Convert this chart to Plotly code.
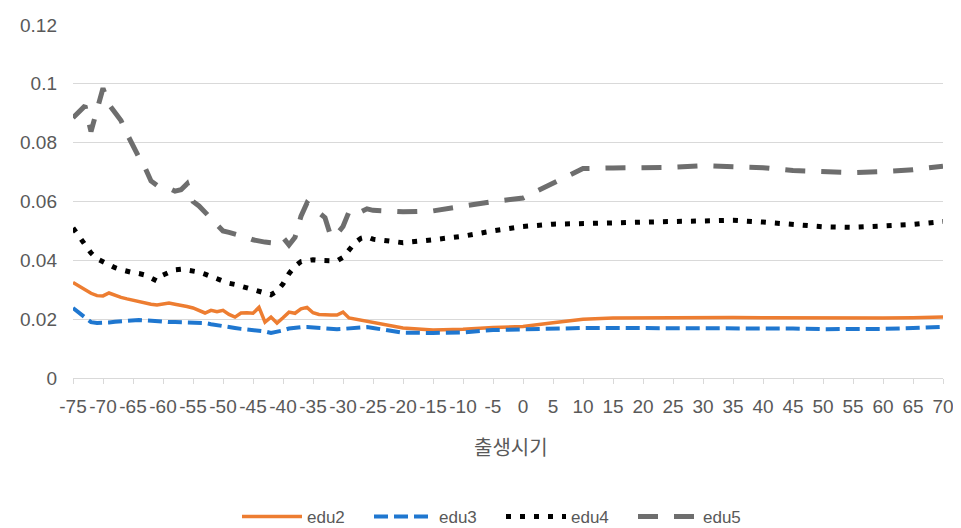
import plotly.graph_objects as go

# Birth period (x) : yearly from -75 to -25, then every 5 years
x_period = list(range(-75, -24)) + list(range(-20, 71, 5))

edu2 = [0.0325, 0.0312, 0.0300, 0.0288, 0.0280, 0.0279, 0.0289, 0.0280, 0.0274, 0.0269,
        0.0264, 0.0259, 0.0255, 0.0251, 0.0248, 0.0252, 0.0255, 0.0251, 0.0248, 0.0243,
        0.0238, 0.0228, 0.0221, 0.0230, 0.0225, 0.0230, 0.0216, 0.0207, 0.0221, 0.0222,
        0.0220, 0.0240, 0.0190, 0.0207, 0.0187, 0.0205, 0.0224, 0.0220, 0.0235, 0.0240,
        0.0222, 0.0216, 0.0214, 0.0214, 0.0214, 0.0224, 0.0204, 0.0200, 0.0197, 0.0194,
        0.0190,
        0.0170, 0.0163, 0.0166, 0.0172, 0.0175, 0.0188, 0.0200, 0.0204, 0.0205, 0.0205,
        0.0206, 0.0206, 0.0205, 0.0204, 0.0203, 0.0203, 0.0204, 0.0205, 0.0207]

edu3 = [0.0238, 0.0222, 0.0205, 0.0190, 0.0187, 0.0187, 0.0189, 0.0191, 0.0193, 0.0195,
        0.0196, 0.0197, 0.0196, 0.0194, 0.0192, 0.0191, 0.0190, 0.0190, 0.0190, 0.0189,
        0.0189, 0.0188, 0.0187, 0.0183, 0.0179, 0.0176, 0.0173, 0.0170, 0.0167, 0.0165,
        0.0164, 0.0163, 0.0158, 0.0153, 0.0156, 0.0162, 0.0168, 0.0171, 0.0173, 0.0173,
        0.0171, 0.0170, 0.0168, 0.0166, 0.0166, 0.0167, 0.0168, 0.0170, 0.0172, 0.0173,
        0.0170,
        0.0154, 0.0153, 0.0155, 0.0163, 0.0166, 0.0170, 0.0170, 0.0170, 0.0170, 0.0170,
        0.0170, 0.0170, 0.0169, 0.0168, 0.0166, 0.0165, 0.0167, 0.0170, 0.0174]

edu4 = [0.0510, 0.0480, 0.0450, 0.0425, 0.0405, 0.0394, 0.0385, 0.0375, 0.0368, 0.0362,
        0.0358, 0.0355, 0.0350, 0.0340, 0.0330, 0.0350, 0.0360, 0.0368, 0.0370, 0.0368,
        0.0364, 0.0360, 0.0353, 0.0345, 0.0335, 0.0330, 0.0322, 0.0318, 0.0312, 0.0306,
        0.0302, 0.0296, 0.0290, 0.0283, 0.0295, 0.0320, 0.0355, 0.0380, 0.0396, 0.0400,
        0.0402, 0.0400, 0.0400, 0.0398, 0.0398, 0.0410, 0.0435, 0.0460, 0.0475, 0.0480,
        0.0472,
        0.0460, 0.0470, 0.0482, 0.0500, 0.0515, 0.0523, 0.0527, 0.0527, 0.0530, 0.0532,
        0.0537, 0.0536, 0.0530, 0.0522, 0.0514, 0.0512, 0.0515, 0.0522, 0.0532]

edu5 = [0.0885, 0.0905, 0.0925, 0.0838, 0.0915, 0.0985, 0.0930, 0.0905, 0.0875, 0.0830,
        0.0785, 0.0750, 0.0715, 0.0670, 0.0655, 0.0650, 0.0645, 0.0635, 0.0640, 0.0660,
        0.0600, 0.0585, 0.0565, 0.0545, 0.0520, 0.0500, 0.0495, 0.0490, 0.0485, 0.0478,
        0.0470, 0.0465, 0.0462, 0.0460, 0.0460, 0.0478, 0.0452, 0.0478, 0.0550, 0.0595,
        0.0580, 0.0560, 0.0545, 0.0480, 0.0490, 0.0515, 0.0565, 0.0555, 0.0565, 0.0575,
        0.0570,
        0.0565, 0.0568, 0.0585, 0.0600, 0.0612, 0.0660, 0.0712, 0.0714, 0.0714, 0.0716,
        0.0722, 0.0720, 0.0715, 0.0705, 0.0700, 0.0698, 0.0702, 0.0708, 0.0720]

x_ticks = list(range(-75, 71, 5))
x_ticktext = [str(v) for v in x_ticks]
y_ticks = [0, 0.02, 0.04, 0.06, 0.08, 0.1, 0.12]
y_ticktext = ["0", "0.02", "0.04", "0.06", "0.08", "0.1", "0.12"]

series = [
    ("edu2", edu2, "#ED7D31", "solid", 3.5),
    ("edu3", edu3, "#1F77D0", "14px,6px", 4),
    ("edu4", edu4, "#000000", "5px,9px", 5),
    ("edu5", edu5, "#6E6E6E", "20px,16px", 5),
]

fig = go.Figure()
for name, vals, color, dash, w in series:
    fig.add_trace(go.Scatter(x=x_period, y=vals, mode="lines", name=name,
                             line=dict(color=color, dash=dash, width=w)))

# the page adds an 8px body margin, so the figure is 8px smaller and shifted
W, H = 953, 520
font_family = "Liberation Sans, Arial, sans-serif"
fig.update_layout(
    width=W, height=H,
    margin=dict(l=65, r=18, t=17, b=150, autoexpand=False),
    paper_bgcolor="white", plot_bgcolor="white",
    font=dict(family=font_family, color="#595959"),
    showlegend=True,
    legend=dict(orientation="h", x=493 / W, xanchor="center", xref="container",
                y=1 - 509 / H, yanchor="middle", yref="container",
                font=dict(size=17, color="#595959"), itemwidth=60,
                entrywidth=57, entrywidthmode="pixels",
                traceorder="normal"),
    xaxis=dict(range=[-75, 70], tickvals=x_ticks, ticktext=x_ticktext, tickangle=0,
               automargin=False,
               showgrid=False, zeroline=False, showline=True, linecolor="#D9D9D9",
               linewidth=1, ticks="outside", ticklen=5, tickcolor="#D9D9D9",
               tickfont=dict(size=19, color="#595959"), ticklabelstandoff=6),
    yaxis=dict(range=[0, 0.12], tickvals=y_ticks, ticktext=y_ticktext,
               automargin=False,
               showgrid=True, gridcolor="#D9D9D9", gridwidth=1, zeroline=False,
               showline=False, tickfont=dict(size=19, color="#595959"),
               ticklabelstandoff=15),
    annotations=[dict(text="출생시기", xref="paper", yref="paper", x=0.503, y=-0.195,
                      showarrow=False, xanchor="center", yanchor="middle",
                      font=dict(size=20, color="#595959",
                                family="Noto Sans CJK KR, Noto Sans, sans-serif"))],
)

fig.write_html("out.html")
